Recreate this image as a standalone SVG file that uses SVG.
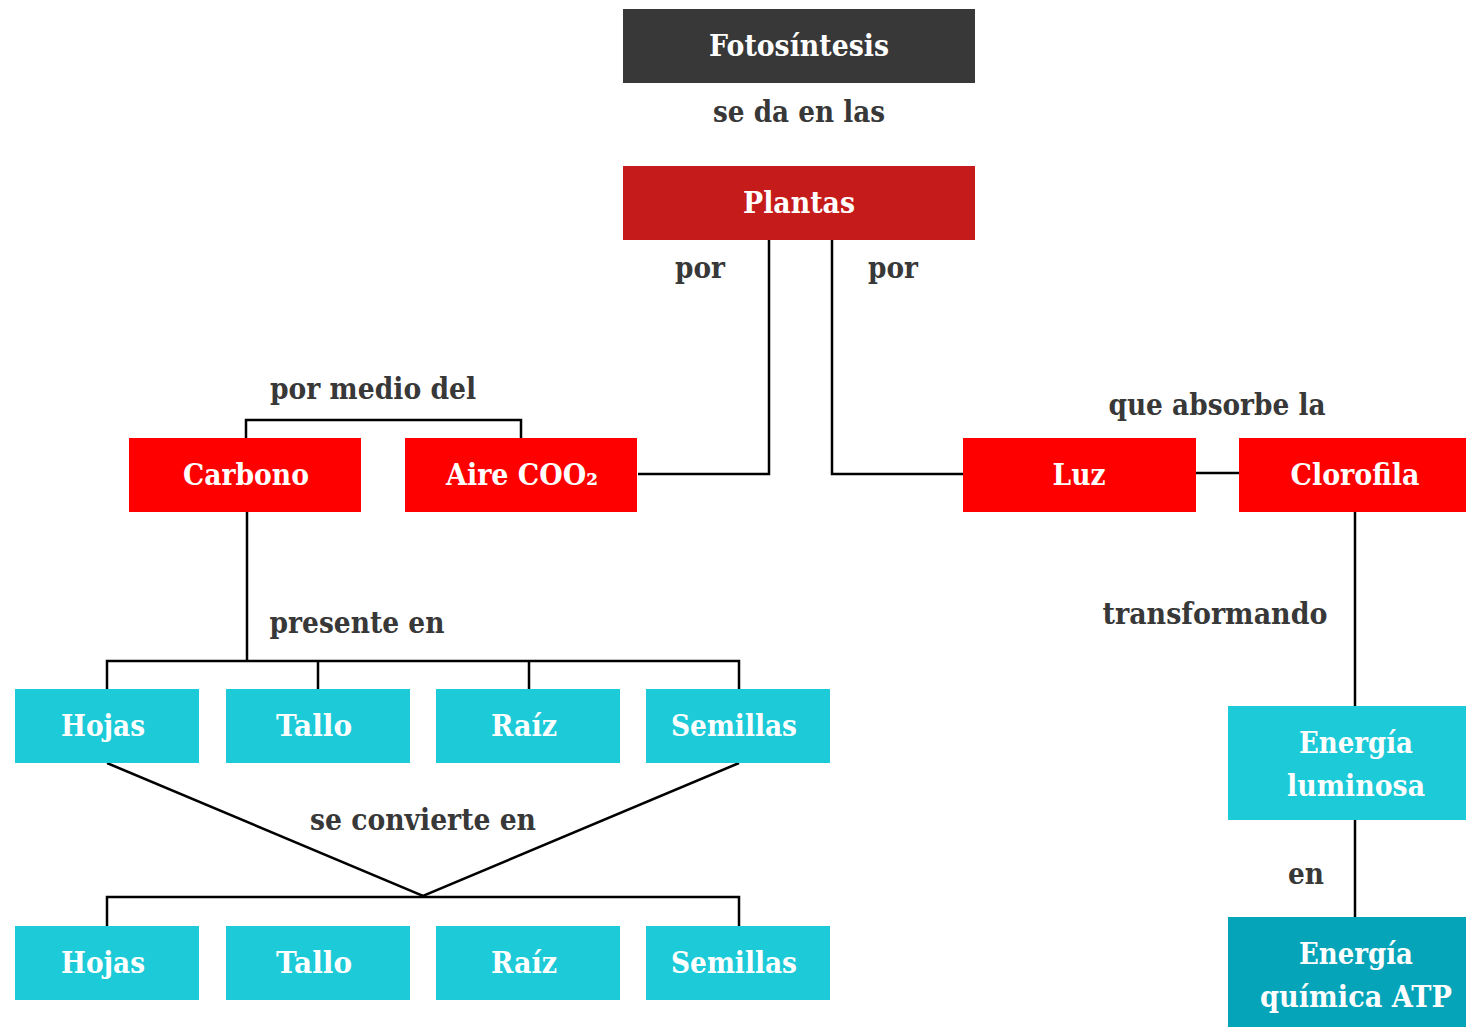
<svg xmlns="http://www.w3.org/2000/svg" width="1466" height="1027" viewBox="0 0 1466 1027">
<style>
text{font-family:"DejaVu Serif","Liberation Serif",serif;font-weight:bold;font-size:29px;text-anchor:middle}
.n{fill:#ffffff}
.l{fill:#383838}
.c{fill:none;stroke:#000;stroke-width:2.5}
.dark{fill:#383838}
.plant{fill:#c61b1b}
.red{fill:#ff0000}
.cy{fill:#1ccad8}
.teal{fill:#05a4b8}
</style>
<rect width="1466" height="1027" fill="#fff"/>
<g id="connectors">
<path class="c" d="M769 240V474H638"/>
<path class="c" d="M832 240V474H963"/>
<path class="c" d="M246 438V420H521V438"/>
<path class="c" d="M1196 473H1239"/>
<path class="c" d="M1355 512V706"/>
<path class="c" d="M1355 820V917"/>
<path class="c" d="M247 512V661"/>
<path class="c" d="M107 689V661H739V689M318 661V689M529 661V689"/>
<path class="c" d="M107 763L423 896L739 763"/>
<path class="c" d="M107 926V897H739V926"/>
</g>
<g id="labels">
<text class="l" x="799" y="122" textLength="172" lengthAdjust="spacingAndGlyphs">se da en las</text>
<text class="l" x="700" y="278" textLength="50" lengthAdjust="spacingAndGlyphs">por</text>
<text class="l" x="893" y="278" textLength="50" lengthAdjust="spacingAndGlyphs">por</text>
<text class="l" x="373" y="399" textLength="206" lengthAdjust="spacingAndGlyphs">por medio del</text>
<text class="l" x="1217" y="415" textLength="217" lengthAdjust="spacingAndGlyphs">que absorbe la</text>
<text class="l" x="1215" y="624" textLength="225" lengthAdjust="spacingAndGlyphs">transformando</text>
<text class="l" x="357" y="633" textLength="175" lengthAdjust="spacingAndGlyphs">presente en</text>
<text class="l" x="423" y="830" textLength="226" lengthAdjust="spacingAndGlyphs">se convierte en</text>
<text class="l" x="1306" y="884" textLength="36" lengthAdjust="spacingAndGlyphs">en</text>
</g>
<g id="fotosintesis"><rect class="dark" x="623" y="9" width="352" height="74"/><text class="n" x="799" y="56" textLength="180" lengthAdjust="spacingAndGlyphs">Fotosíntesis</text></g>
<g id="plantas"><rect class="plant" x="623" y="166" width="352" height="74"/><text class="n" x="799" y="213" textLength="112" lengthAdjust="spacingAndGlyphs">Plantas</text></g>
<g id="carbono"><rect class="red" x="129" y="438" width="232" height="74"/><text class="n" x="246" y="485" textLength="126" lengthAdjust="spacingAndGlyphs">Carbono</text></g>
<g id="aire"><rect class="red" x="405" y="438" width="232" height="74"/><text class="n" x="522" y="485" textLength="152" lengthAdjust="spacingAndGlyphs">Aire COO₂</text></g>
<g id="luz"><rect class="red" x="963" y="438" width="233" height="74"/><text class="n" x="1079" y="485" textLength="53" lengthAdjust="spacingAndGlyphs">Luz</text></g>
<g id="clorofila"><rect class="red" x="1239" y="438" width="227" height="74"/><text class="n" x="1355" y="485" textLength="129" lengthAdjust="spacingAndGlyphs">Clorofila</text></g>
<g id="energia-luminosa"><rect class="cy" x="1228" y="706" width="238" height="114"/><text class="n" x="1356" y="753" textLength="114" lengthAdjust="spacingAndGlyphs">Energía</text><text class="n" x="1356" y="796" textLength="138" lengthAdjust="spacingAndGlyphs">luminosa</text></g>
<g id="energia-quimica"><rect class="teal" x="1228" y="917" width="238" height="110"/><text class="n" x="1356" y="964" textLength="114" lengthAdjust="spacingAndGlyphs">Energía</text><text class="n" x="1356" y="1007" textLength="192" lengthAdjust="spacingAndGlyphs">química ATP</text></g>
<g id="hojas1"><rect class="cy" x="15" y="689" width="184" height="74"/><text class="n" x="103" y="736" textLength="84" lengthAdjust="spacingAndGlyphs">Hojas</text></g>
<g id="tallo1"><rect class="cy" x="226" y="689" width="184" height="74"/><text class="n" x="314" y="736" textLength="76" lengthAdjust="spacingAndGlyphs">Tallo</text></g>
<g id="raiz1"><rect class="cy" x="436" y="689" width="184" height="74"/><text class="n" x="524" y="736" textLength="66" lengthAdjust="spacingAndGlyphs">Raíz</text></g>
<g id="semillas1"><rect class="cy" x="646" y="689" width="184" height="74"/><text class="n" x="734" y="736" textLength="126" lengthAdjust="spacingAndGlyphs">Semillas</text></g>
<g id="hojas2"><rect class="cy" x="15" y="926" width="184" height="74"/><text class="n" x="103" y="973" textLength="84" lengthAdjust="spacingAndGlyphs">Hojas</text></g>
<g id="tallo2"><rect class="cy" x="226" y="926" width="184" height="74"/><text class="n" x="314" y="973" textLength="76" lengthAdjust="spacingAndGlyphs">Tallo</text></g>
<g id="raiz2"><rect class="cy" x="436" y="926" width="184" height="74"/><text class="n" x="524" y="973" textLength="66" lengthAdjust="spacingAndGlyphs">Raíz</text></g>
<g id="semillas2"><rect class="cy" x="646" y="926" width="184" height="74"/><text class="n" x="734" y="973" textLength="126" lengthAdjust="spacingAndGlyphs">Semillas</text></g>
</svg>
